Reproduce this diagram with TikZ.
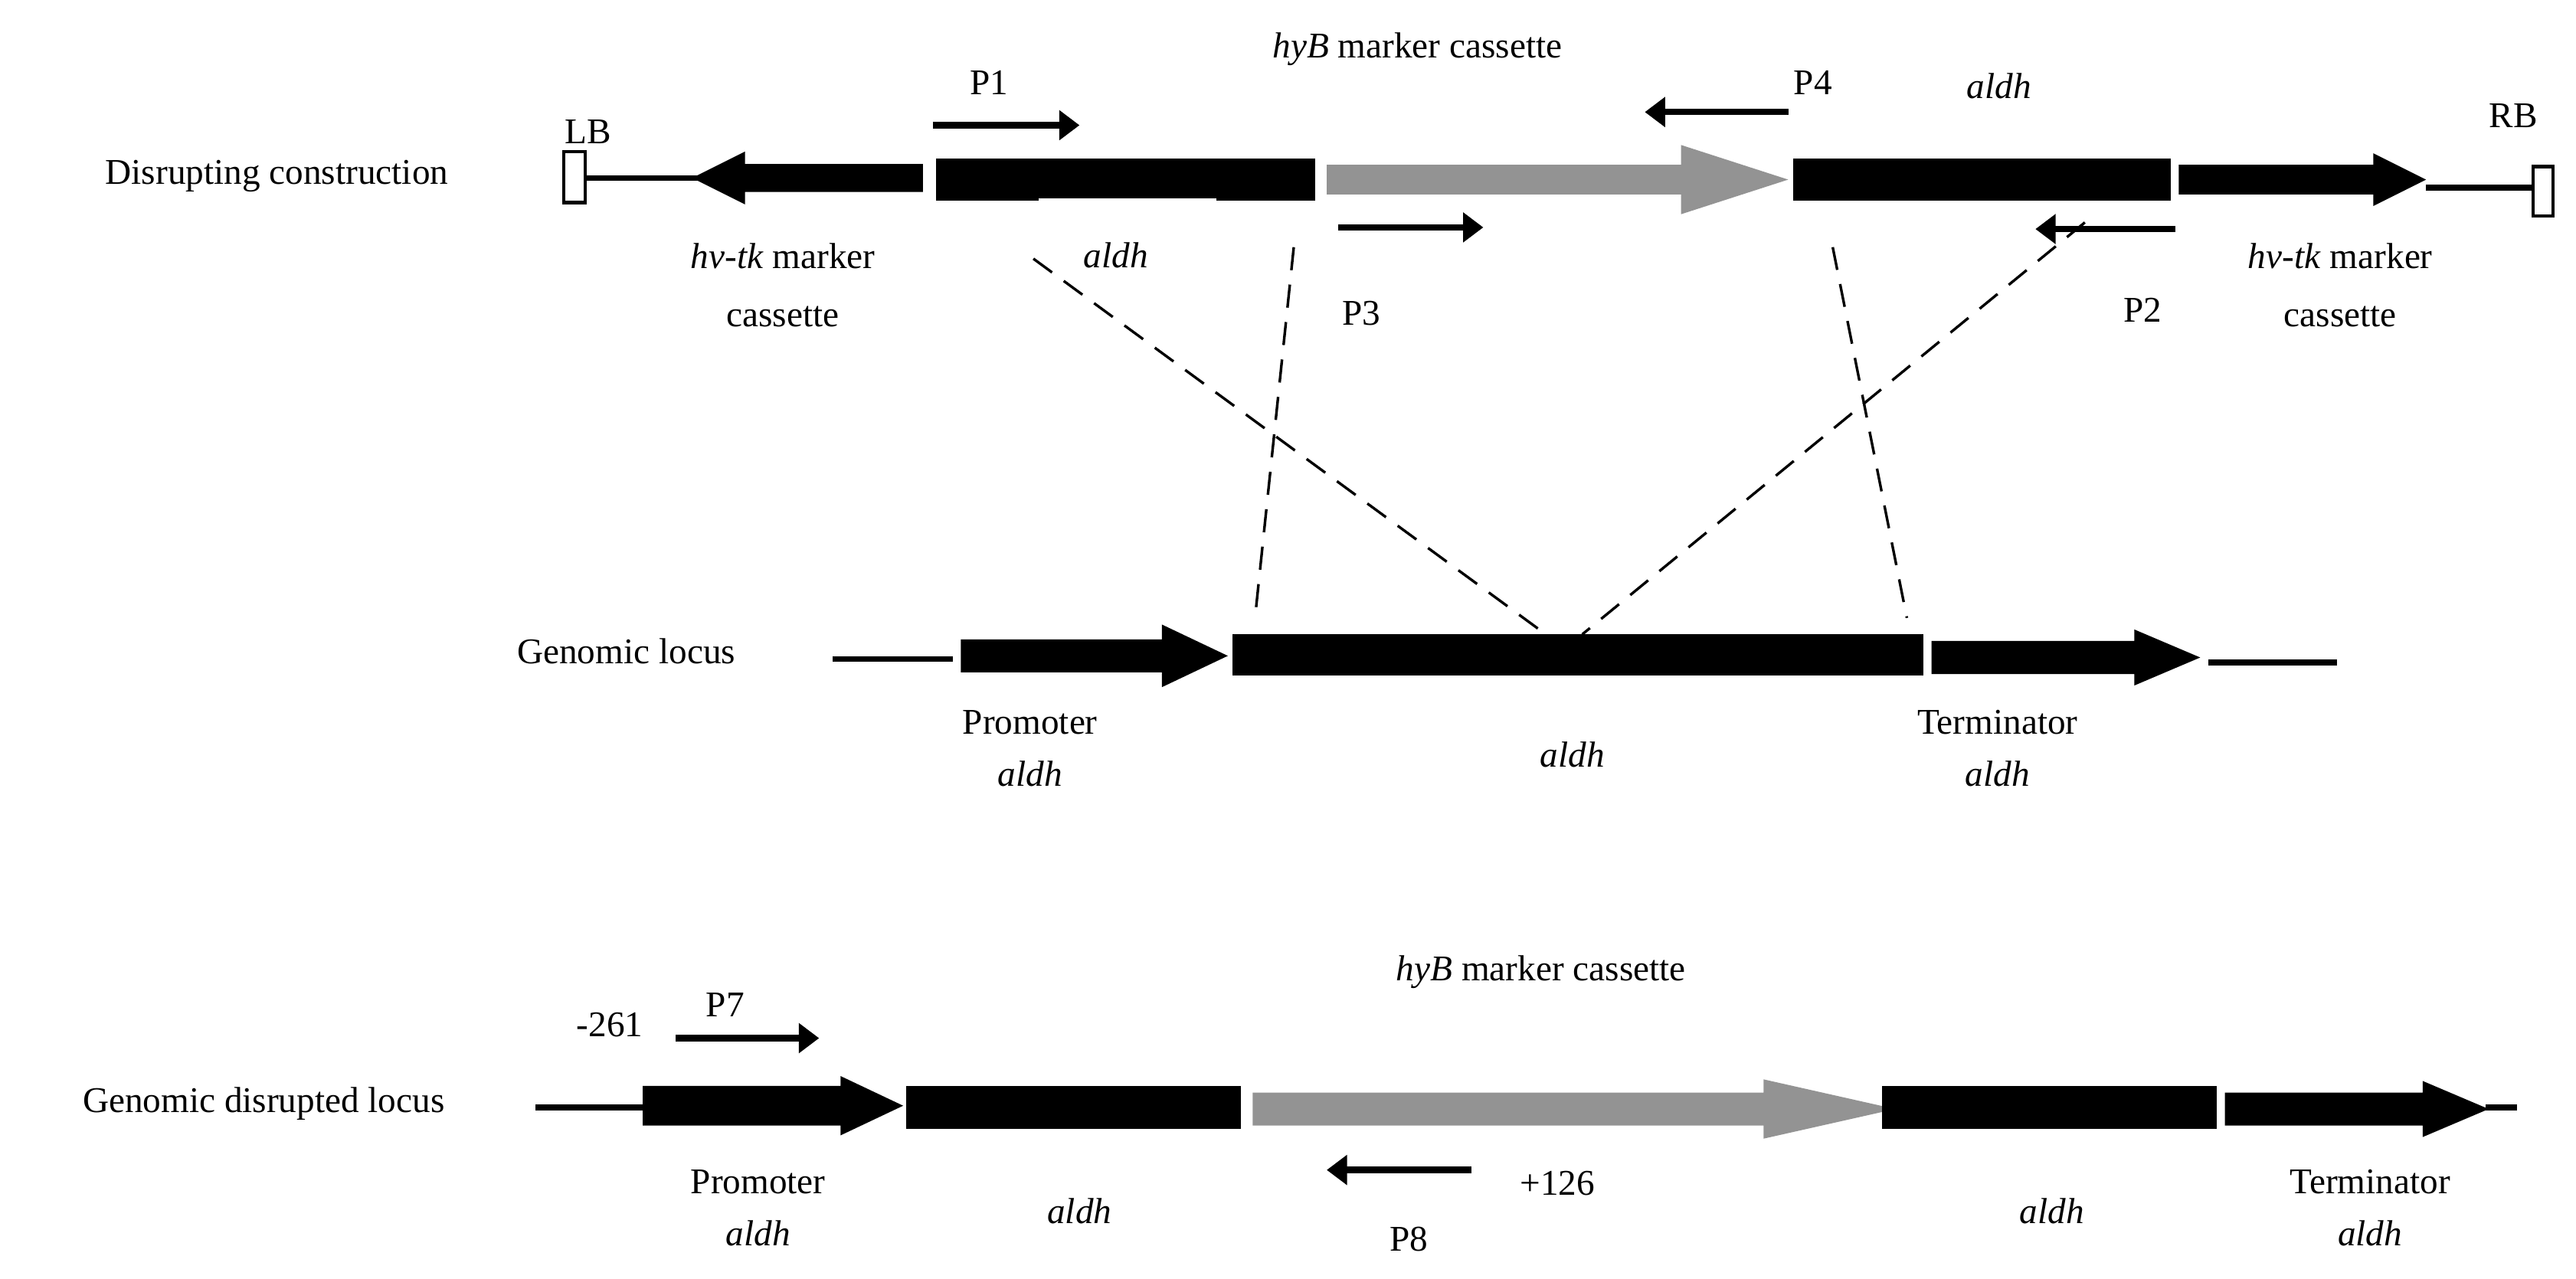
\documentclass[tikz,border=0pt]{standalone}
\usepackage{fontspec}
\setmainfont{Liberation Serif}
\usetikzlibrary{arrows.meta}
\newcommand\blkarrow[7]{% color, xstart, xheadbase, xtip, yc, halfshaft, halfhead
  \fill[#1] (#2,#5-#6) -- (#3,#5-#6) -- (#3,#5-#7) -- (#4,#5) -- (#3,#5+#7) -- (#3,#5+#6) -- (#2,#5+#6) -- cycle;}
\begin{document}
\begin{tikzpicture}[x=0.02cm,y=-0.02cm,
  lbl/.style={font=\fontsize{12.5}{14}\selectfont, inner sep=0pt, align=center},
  primer/.style={line width=2.2pt, -{Triangle[length=7pt,width=10pt]}},
  dsh/.style={line width=0.9pt, dash pattern=on 8pt off 5pt},
  lineseg/.style={line width=2pt}]
\useasboundingbox (0,0) rectangle (1563,776);
% ---- top row
\draw[lineseg] (355,108) -- (425,108);
\draw[line width=1.2pt, fill=white] (342,92) rectangle (355,123);
\blkarrow{black}{560}{452}{420}{108}{8.5}{16}
\fill (568,96) rectangle (798,122);
\draw[white, line width=0.8pt] (630,121) -- (738,121);
\blkarrow{gray!85}{805}{1020}{1085}{109}{9}{21}
\fill (1088,96) rectangle (1317,122);
\blkarrow{black}{1322}{1440}{1472}{109}{9}{16}
\draw[lineseg] (1472,114) -- (1537,114);
\draw[line width=1.2pt, fill=white] (1537,101) rectangle (1549,131);
\coordinate (a1) at (627,157); \coordinate (a2) at (785,150);
\coordinate (a3) at (1112,150); \coordinate (a4) at (1265,135);
% primers top
\draw[primer] (566,76) -- (655,76);
\draw[primer] (1085,68) -- (998,68);
\draw[primer] (812,138) -- (900,138);
\draw[primer] (1320,139) -- (1235,139);
% top labels
\node[lbl] (t0) at (168,107) {Disrupting construction};
\node[lbl] (t1) at (357,80) {LB};
\node[lbl] (t2) at (600,50) {P1};
\node[lbl] (t3) at (860,30) {\textit{hyB} marker cassette};
\node[lbl] (t4) at (1100,50) {P4};
\node[lbl] (t5) at (1213,52) {\textit{aldh}};
\node[lbl] (t6) at (1525,70) {RB};
\node[lbl] (t7) at (475,173) {\textit{hv-tk} marker\\[6pt]cassette};
\node[lbl] (t8) at (677,155) {\textit{aldh}};
\node[lbl] (t9) at (826,190) {P3};
\node[lbl] (t10) at (1300,188) {P2};
\node[lbl] (t11) at (1420,173) {\textit{hv-tk} marker\\[6pt]cassette};
% ---- genomic locus
\draw[lineseg] (505,400) -- (578,400);
\blkarrow{black}{583}{705}{745}{398}{10}{19}
\fill (748,385) rectangle (1167,410);
\blkarrow{black}{1172}{1295}{1335}{399}{10}{17}
\draw[lineseg] (1340,402) -- (1418,402);
\coordinate (b1) at (938,385); \coordinate (b2) at (762,370);
\coordinate (b3) at (1157,375); \coordinate (b4) at (960,385);
\draw[dsh] (a1) -- (b1);
\draw[dsh] (a2) -- (b2);
\draw[dsh] (a3) -- (b3);
\draw[dsh] (a4) -- (b4);
\node[lbl] (g0) at (380,395) {Genomic locus};
\node[lbl] (g1) at (625,454) {Promoter\\[4pt]\textit{aldh}};
\node[lbl] (g2) at (954,458) {\textit{aldh}};
\node[lbl] (g3) at (1212,454) {Terminator\\[4pt]\textit{aldh}};
% ---- disrupted locus
\draw[lineseg] (325,672) -- (392,672);
\blkarrow{black}{390}{510}{548}{671}{12}{18}
\fill (550,659) rectangle (753,685);
\blkarrow{gray!85}{760}{1070}{1150}{673}{10}{18}
\fill (1142,659) rectangle (1345,685);
\blkarrow{black}{1350}{1470}{1510}{673}{10}{17}
\draw[lineseg] (1508,672) -- (1527,672);
\draw[primer] (410,630) -- (497,630);
\draw[primer] (893,710) -- (805,710);
\node[lbl] (d0) at (160,670) {Genomic disrupted locus};
\node[lbl] (d1) at (440,610) {P7};
\node[lbl] (d2) at (370,622) {-261};
\node[lbl] (d3) at (935,590) {\textit{hyB} marker cassette};
\node[lbl] (d4) at (945,718) {+126};
\node[lbl] (d5) at (855,752) {P8};
\node[lbl] (d6) at (460,733) {Promoter\\[4pt]\textit{aldh}};
\node[lbl] (d7) at (655,735) {\textit{aldh}};
\node[lbl] (d8) at (1245,735) {\textit{aldh}};
\node[lbl] (d9) at (1438,733) {Terminator\\[4pt]\textit{aldh}};
\end{tikzpicture}
\end{document}
